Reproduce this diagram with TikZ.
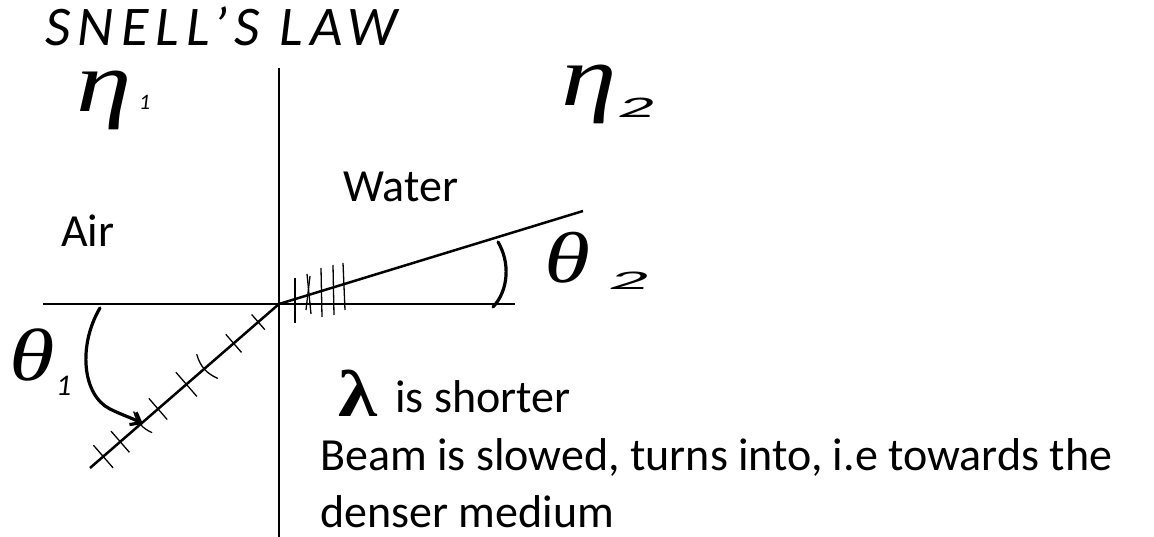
\documentclass[tikz,border=0pt]{standalone}
\usepackage{fontspec}
\setmainfont{Carlito}
\newfontfamily\hand[LetterSpace=13]{Carlito}
\newfontfamily\handsub{Carlito}
\newfontfamily\gk{Liberation Serif}
\usetikzlibrary{arrows.meta,calc}
\begin{document}
\begin{tikzpicture}[x=1pt,y=-1pt,
  axis/.style={line width=2.5pt},
  tickmark/.style={line width=1.3pt},
  hw/.style={line width=3.2pt,line cap=round},
  txt/.style={inner sep=0pt,anchor=base west,font=\fontsize{46}{55}\selectfont},
  greek/.style={inner sep=0pt,anchor=base west,font=\gk\itshape\fontsize{#1}{#1}\selectfont},
  sub/.style={inner sep=0pt,anchor=base west,font=\handsub\itshape\fontsize{#1}{#1}\selectfont}]
\useasboundingbox (0,0) rectangle (1154,537);
% axes and rays
\coordinate (O) at (279,304);
\coordinate (top) at (279,68);
\coordinate (bot) at (279,537);
\coordinate (L) at (43,304);
\coordinate (R) at (515,304);
\coordinate (inc) at (90,468);
\coordinate (ref) at (583,211);
\draw[axis] (top) -- (bot);
\draw[axis] (L) -- (R);
\draw[axis] (O) -- (inc);
\draw[axis] (O) -- (ref);
% ticks on incident ray
\foreach \t/\h in {0.11/10,0.24/12,0.49/16,0.64/14,0.84/14,0.93/15}
  \draw[tickmark] ($(O)!\t!(inc)+(-0.656*\h,-0.756*\h)$) -- ($(O)!\t!(inc)+(0.656*\h,0.756*\h)$);
\foreach \t/\h in {0.38/16,0.72/14}
  \draw[tickmark] ($(O)!\t!(inc)+(-0.656*\h,-0.756*\h)$) to[bend right=25] ($(O)!\t!(inc)+(0.656*\h,0.756*\h)$);
% ticks on refracted ray
\draw[tickmark] (295,278) -- (295,323);
\draw[tickmark] (307,274) -- (311,314);
\draw[tickmark] (310,276) -- (306,310);
\draw[tickmark] (321,268) -- (322,317);
\draw[tickmark] (333,265) -- (334,315);
\draw[tickmark] (343,263) -- (345,310);
% angle arcs
\coordinate (a1s) at (100,308);
\coordinate (a1e) at (143,424);
\draw[hw,-{Straight Barb[length=9pt,width=14pt]}] (a1s) .. controls (78,345) and (82,395) .. (110,409) .. controls (122,415) and (132,418) .. (a1e);
\coordinate (a2s) at (498,242);
\coordinate (a2e) at (493,307);
\draw[hw] (a2s) .. controls (510,262) and (509,290) .. (a2e);
% handwritten labels
\node[inner sep=0pt,anchor=base west,text depth=0pt,font=\hand\itshape\fontsize{56}{56}\selectfont] (title) at (45,46) {SNELL’S LAW};
\node[greek=86] (eta1) at (76,112) {\scalebox{1.3}[1]{η}};
\node[sub=22] (eta1s) at (139,110) {1};
\node[greek=86] (eta2) at (561,106) {\scalebox{1.3}[1]{η}};
\node[sub=30] (eta2s) at (617,118) {\scalebox{2.4}[1]{2}};
\node[greek=74] (th1) at (9,380) {\scalebox{1.25}[1]{θ}};
\node[sub=30] (th1s) at (56,395) {1};
\node[greek=72] (th2) at (544,283) {\scalebox{1.3}[1]{θ}};
\node[sub=27] (th2s) at (608,290) {\scalebox{2.9}[1]{2}};
\node[inner sep=0pt,anchor=base west,font=\gk\bfseries\fontsize{66}{66}\selectfont] (lam) at (338,416) {\scalebox{1.2}[1]{λ}};
% typed text
\node[txt] (water) at (343,202) {Water};
\node[txt] (air) at (61,247) {Air};
\node[txt] (short) at (395,412) {is shorter};
\node[txt] (beam) at (320,470) {Beam is slowed, turns into, i.e towards the};
\node[txt] (dense) at (320,527) {denser medium};
\end{tikzpicture}
\end{document}
